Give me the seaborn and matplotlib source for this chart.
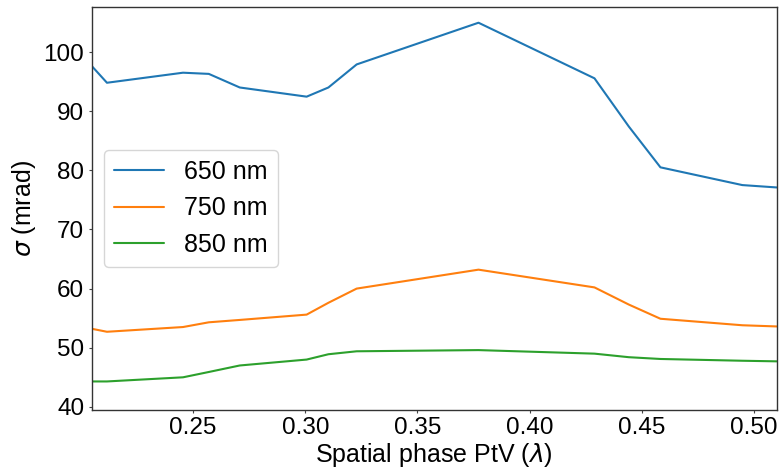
import numpy as np
import pandas as pd
import matplotlib
matplotlib.use("Agg")
import matplotlib.pyplot as plt
import seaborn as sns

ptv = [0.2049, 0.2116, 0.2455, 0.2570, 0.2708, 0.3006, 0.3103, 0.3229, 0.3772, 0.4289, 0.4442, 0.4583, 0.4948, 0.5101]
sigma_650 = [97.6, 94.8, 96.5, 96.3, 94.0, 92.45, 94.0, 97.9, 104.95, 95.55, 87.4, 80.5, 77.5, 77.1]
sigma_750 = [53.2, 52.7, 53.5, 54.3, 54.7, 55.6, 57.6, 60.0, 63.2, 60.2, 57.3, 54.9, 53.8, 53.6]
sigma_850 = [44.3, 44.3, 45.0, 45.9, 47.0, 48.0, 48.9, 49.4, 49.6, 49.0, 48.4, 48.1, 47.8, 47.7]
labels = ["650 nm", "750 nm", "850 nm"]

df = pd.concat([
    pd.DataFrame({"x": ptv, "y": s, "wl": lab})
    for s, lab in zip([sigma_650, sigma_750, sigma_850], labels)
])

sns.set_style("white")
plt.rcParams["font.family"] = ["Liberation Sans", "DejaVu Sans"]
plt.rcParams["mathtext.fontset"] = "dejavusans"
plt.rcParams["text.color"] = "black"
plt.rcParams["axes.labelcolor"] = "black"
plt.rcParams["xtick.color"] = "black"
plt.rcParams["ytick.color"] = "black"

fig = plt.figure(figsize=(7.79, 4.70), dpi=100)
ax = fig.add_axes([0.118, 0.128, 0.879, 0.857])
sns.lineplot(data=df, x="x", y="y", hue="wl", palette=sns.color_palette("tab10", 3),
             ax=ax, linewidth=1.5, sort=False)
ax.set_xlim(min(ptv), max(ptv))
ax.set_ylim(39.5, 107.6)
ax.set_yticks([40, 50, 60, 70, 80, 90, 100])
ax.set_xticks([0.25, 0.30, 0.35, 0.40, 0.45, 0.50])
ax.set_xticklabels(["0.25", "0.30", "0.35", "0.40", "0.45", "0.50"])
ax.tick_params(axis="both", labelsize=17.5, length=2.5, width=0.8, direction="out", pad=3,
               bottom=True, left=True, color="#444444", labelcolor="black")
for sp in ax.spines.values():
    sp.set_color("#333333")
    sp.set_linewidth(1)
ax.set_xlabel(r"Spatial phase PtV ($\lambda$)", fontsize=18, color="black", labelpad=1)
ax.set_ylabel(r"$\sigma$ (mrad)", fontsize=18, color="black", labelpad=4)
leg = ax.legend(loc="center left", fontsize=18, frameon=True)
leg.set_title(None)
fig.savefig("out.png", dpi=100)
